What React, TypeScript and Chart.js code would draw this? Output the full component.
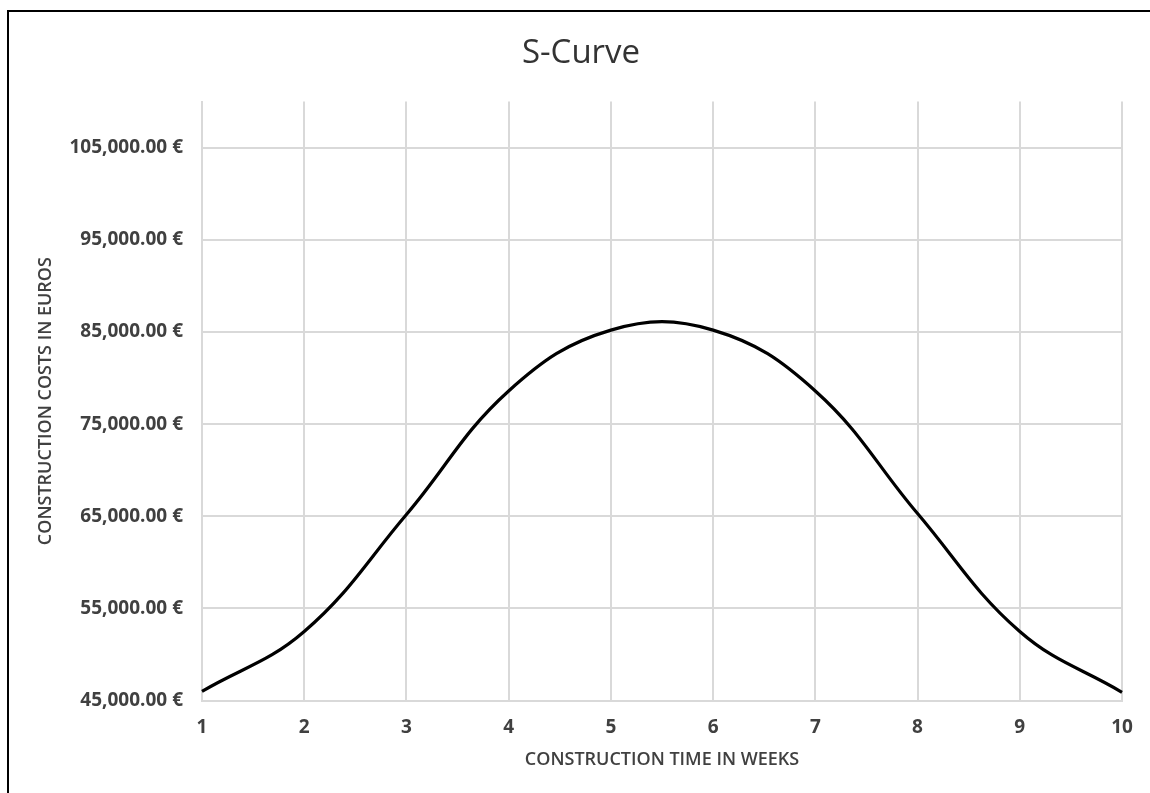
import React, { useEffect, useRef } from "react";
import { Chart, registerables } from "chart.js";

Chart.register(...registerables);

const weeks = ["1", "2", "3", "4", "5", "6", "7", "8", "9", "10"];
const costs = [46000, 52500, 65200, 78600, 85200, 85200, 78600, 65300, 52500, 45900];
const yTicks = [45000, 55000, 65000, 75000, 85000, 95000, 105000];
const yMin = 45000;
const yMax = 110000;

const FONT = "'Open Sans', 'Noto Sans', sans-serif";
const GRID = "#d9d9d9";
const TEXT = "#404040";

export default function App() {
  const ref = useRef<HTMLCanvasElement | null>(null);

  useEffect(() => {
    if (!ref.current) return;
    const chart = new Chart(ref.current, {
      type: "line",
      data: {
        labels: weeks,
        datasets: [
          {
            data: costs,
            borderColor: "#000000",
            borderWidth: 3.2,
            pointRadius: 0,
            tension: 0.4,
            fill: false,
          },
        ],
      },
      options: {
        animation: false,
        responsive: false,
        layout: { padding: { left: 28, right: 28, top: 0, bottom: 22 } },
        plugins: {
          legend: { display: false },
          tooltip: { enabled: false },
          title: {
            display: true,
            text: "S-Curve",
            color: "#333333",
            font: { family: FONT, size: 33, weight: "normal" },
            padding: { top: 34, bottom: 28 },
          },
        },
        scales: {
          x: {
            grid: { color: GRID, lineWidth: 2, drawTicks: false },
            border: { color: GRID, width: 2 },
            ticks: {
              color: TEXT,
              padding: 16,
              maxRotation: 0,
              font: { family: FONT, size: 19, weight: "bold" },
            },
            title: {
              display: true,
              text: "CONSTRUCTION TIME IN WEEKS",
              color: TEXT,
              font: { family: FONT, size: 18, weight: 600 },
              padding: { top: -6, bottom: 0 },
            },
          },
          y: {
            min: yMin,
            max: yMax,
            afterBuildTicks: (s: any) => {
              s.ticks = yTicks.map((v) => ({ value: v }));
            },
            afterFit: (s: any) => {
              s.width = 162;
            },
            grid: { color: GRID, lineWidth: 2, drawTicks: false },
            border: { color: GRID, width: 2 },
            ticks: {
              color: TEXT,
              padding: 19,
              font: { family: FONT, size: 19, weight: "bold" },
              callback: (v: any) =>
                Number(v).toLocaleString("en-US", {
                  minimumFractionDigits: 2,
                  maximumFractionDigits: 2,
                }) + " €",
            },
            title: {
              display: true,
              text: "CONSTRUCTION COSTS IN EUROS",
              color: TEXT,
              font: { family: FONT, size: 18, weight: 600 },
              padding: { top: -5, bottom: 0 },
            },
          },
        },
      },
    });
    return () => chart.destroy();
  }, []);

  return (
    <div
      style={{
        position: "fixed",
        left: 0,
        top: 0,
        width: 1150,
        height: 793,
        background: "#ffffff",
        overflow: "hidden",
      }}
    >
      <div
        style={{
          position: "absolute",
          left: 7,
          top: 10,
          width: 1300,
          height: 1000,
          borderLeft: "2px solid #000",
          borderTop: "2px solid #000",
          boxSizing: "border-box",
        }}
      />
      <div style={{ position: "absolute", left: 12, top: 0, width: 1138, height: 793 }}>
        <canvas ref={ref} width={1138} height={793} />
      </div>
    </div>
  );
}
